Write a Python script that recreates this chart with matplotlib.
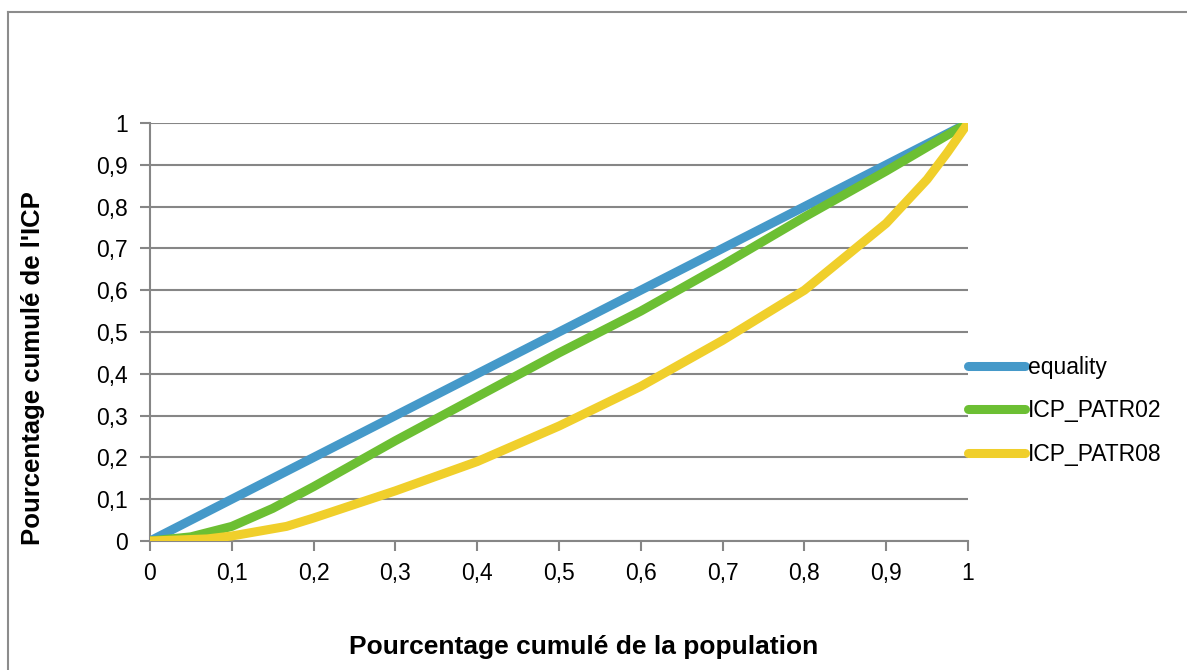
import numpy as np
import matplotlib.pyplot as plt
from matplotlib.lines import Line2D

plt.rcParams['font.family'] = ['Liberation Sans', 'DejaVu Sans']

# cumulative population share
x_eq = [0, 1]
y_eq = [0, 1]

x_p02 = [0, 0.05, 0.1, 0.15, 0.2, 0.3, 0.4, 0.5, 0.6, 0.7, 0.8, 0.9, 1.0]
y_p02 = [0, 0.01, 0.035, 0.078, 0.13, 0.24, 0.345, 0.45, 0.55, 0.66, 0.775, 0.885, 1.0]

x_p08 = [0, 0.07, 0.1, 0.167, 0.2, 0.3, 0.4, 0.5, 0.6, 0.7, 0.8, 0.85, 0.9, 0.95, 0.975, 1.0]
y_p08 = [0, 0.005, 0.012, 0.035, 0.055, 0.12, 0.19, 0.275, 0.37, 0.48, 0.60, 0.68, 0.76, 0.865, 0.93, 1.0]

ticks = np.arange(0, 11) / 10
tick_labels = ['0', '0,1', '0,2', '0,3', '0,4', '0,5', '0,6', '0,7', '0,8', '0,9', '1']

fig = plt.figure(figsize=(11.87, 6.70), dpi=100)
ax = fig.add_axes([150/1187, 1 - 541/670, 818/1187, 418/670])

lw = 6.5
ax.plot(x_eq, y_eq, color='#4599c9', lw=lw, label='equality', solid_capstyle='round', zorder=3)
ax.plot(x_p02, y_p02, color='#6cbf33', lw=lw, label='ICP_PATR02', solid_capstyle='round',
        solid_joinstyle='round', zorder=4)
ax.plot(x_p08, y_p08, color='#f0cf2b', lw=lw, label='ICP_PATR08', solid_capstyle='round',
        solid_joinstyle='round', zorder=5)

ax.set_xlim(0, 1)
ax.set_ylim(0, 1)
ax.set_xticks(ticks)
ax.set_xticklabels(tick_labels)
ax.set_yticks(ticks)
ax.set_yticklabels(tick_labels)
ax.tick_params(axis='both', labelsize=16.5, length=7, width=1.5, color='#868686', direction='out')
ax.tick_params(axis='x', pad=8)
ax.tick_params(axis='y', pad=9)
ax.yaxis.grid(True, color='#868686', lw=1.5)
ax.set_axisbelow(True)
for s in ['top', 'right']:
    ax.spines[s].set_visible(False)
for s in ['left', 'bottom']:
    ax.spines[s].set_color('#868686')
    ax.spines[s].set_linewidth(1.5)

fig.text(584/1187, 1 - 647/670, 'Pourcentage cumulé de la population', ha='center', va='center',
         fontsize=19, fontweight='bold')
fig.text(33/1187, 1 - 368/670, "Pourcentage cumulé de l'ICP", ha='center', va='center',
         rotation=90, fontsize=18.5, fontweight='bold')

leg = ax.legend(loc='center left', bbox_to_anchor=(968/1187, 1 - 411/670), bbox_transform=fig.transFigure,
                frameon=False, fontsize=16.5, handlelength=2.5, handletextpad=0.12, labelspacing=0.9,
                borderaxespad=0, borderpad=0)
for h in leg.get_lines():
    h.set_solid_capstyle('round')

# outer chart border
fig.add_artist(Line2D([8/1187, 8/1187], [0, 1 - 12/670], transform=fig.transFigure, color='#8c8c8c', lw=1.5))
fig.add_artist(Line2D([8/1187, 1], [1 - 12/670, 1 - 12/670], transform=fig.transFigure, color='#8c8c8c', lw=1.5))

fig.savefig('out.png', dpi=100)
